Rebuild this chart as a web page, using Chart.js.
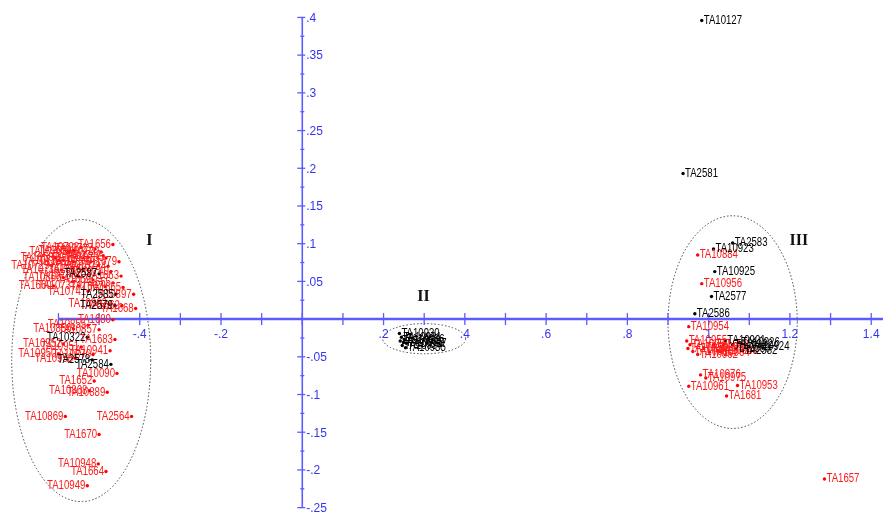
<!DOCTYPE html>
<html>
<head>
<meta charset="utf-8">
<script src="https://cdn.jsdelivr.net/npm/chart.js@4/dist/chart.umd.min.js"></script>
<style>
  html, body { margin: 0; padding: 0; background: #ffffff; }
  #wrap { width: 887px; height: 521px; }
</style>
</head>
<body>
<div id="wrap"><canvas id="c" width="887" height="521"></canvas></div>
<script>
// ---------------- DATA ----------------
const redLabels = ['TA1656','TA10728','TA10720','TA1654','TA10735','TA1679','TA1661','TA10731','TA1666','TA10740',
  'TA10866','TA1659','TA1663','TA10737','TA10897','TA10862','TA1662','TA1668','TA1680','TA10855',
  'TA10857','TA1683','TA10951','TA10941','TA10950','TA10958','TA10090','TA1652','TA10889','TA10868',
  'TA10869','TA2564','TA1670','TA10948','TA1664','TA10949','TA10733','TA1658','TA10729','TA1667',
  'TA10736','TA10739','TA10856','TA10870','TA10952',
  'TA10727','TA10732','TA10734','TA10738','TA1655','TA1660','TA10741','TA1665','TA10742','TA1669',
  'TA10884','TA10956','TA10954','TA10955','TA10957','TA10959','TA10960','TA10962','TA10963','TA10964',
  'TA10965','TA1682','TA10976','TA10975','TA10961','TA10953','TA1681','TA1657'];
const redX = [-0.466,-0.544,-0.495,-0.527,-0.483,-0.451,-0.563,-0.502,-0.539,-0.471,
  -0.588,-0.515,-0.446,-0.551,-0.415,-0.476,-0.444,-0.410,-0.466,-0.527,
  -0.500,-0.461,-0.544,-0.473,-0.600,-0.559,-0.456,-0.512,-0.480,-0.524,
  -0.583,-0.420,-0.500,-0.502,-0.483,-0.529,-0.573,-0.607,-0.617,-0.485,
  -0.593,-0.520,-0.563,-0.515,-0.588,
  -0.510,-0.588,-0.478,-0.551,-0.466,-0.612,-0.527,-0.441,-0.490,-0.563,
  0.973,0.983,0.951,0.946,0.954,0.949,0.961,0.973,0.988,1.002,
  1.022,1.012,0.980,0.993,0.951,1.071,1.044,1.285];
const redY = [0.099,0.095,0.089,0.082,0.081,0.076,0.076,0.071,0.065,0.063,
  0.055,0.052,0.057,0.044,0.033,0.020,0.018,0.014,-0.001,-0.008,
  -0.014,-0.027,-0.037,-0.042,-0.046,-0.052,-0.072,-0.082,-0.097,-0.095,
  -0.129,-0.129,-0.153,-0.192,-0.202,-0.221,0.089,0.081,0.071,0.043,
  0.065,0.076,-0.013,-0.047,-0.033,
  0.093,0.078,0.070,0.057,0.048,0.044,0.037,0.042,0.084,0.091,
  0.085,0.047,-0.010,-0.029,-0.034,-0.039,-0.043,-0.047,-0.038,-0.044,
  -0.042,-0.034,-0.074,-0.078,-0.089,-0.088,-0.102,-0.212];

const blackLabels = ['TA2587','TA2585','TA2579','TA10322','TA2578','TA2584',
  'TA10930','TA10931','TA10932','TA10933','TA10934','TA10935','TA10936','TA10937',
  'TA10127','TA2581','TA2583','TA10923','TA10925','TA2577','TA2586',
  'TA10921','TA10922','TA10926','TA2580','TA2582','TA10924'];
const blackX = [-0.500,-0.459,-0.461,-0.529,-0.517,-0.471,
  0.239,0.244,0.241,0.249,0.246,0.254,0.251,0.256,
  0.983,0.937,1.059,1.012,1.015,1.007,0.966,
  1.041,1.059,1.076,1.066,1.083,1.100];
const blackY = [0.060,0.033,0.018,-0.024,-0.054,-0.060,
  -0.019,-0.024,-0.029,-0.031,-0.035,-0.038,-0.027,-0.032,
  0.396,0.193,0.101,0.093,0.063,0.030,0.007,
  -0.029,-0.034,-0.031,-0.039,-0.042,-0.037];

// axis ticks
const xTickMarks = [-0.6,-0.5,-0.4,-0.3,-0.2,-0.1,0,0.1,0.2,0.3,0.4,0.5,0.6,0.7,0.8,0.9,1.0,1.1,1.2,1.3,1.4];
const xTickValues = [-0.4,-0.2,0.2,0.4,0.6,0.8,1.0,1.2,1.4];
const xTickLabels = ['-.4','-.2','.2','.4','.6','.8','1','1.2','1.4'];
const yTickValues = [0.4,0.35,0.3,0.25,0.2,0.15,0.1,0.05,-0.05,-0.1,-0.15,-0.2,-0.25];
const yTickLabels = ['.4','.35','.3','.25','.2','.15','.1','.05','-.05','-.1','-.15','-.2','-.25'];
const yMinorMarks = [0.375,0.325,0.275,0.225,0.175,0.125,0.075,0.025,-0.025,-0.075,-0.125,-0.175,-0.225];

// group annotations (ellipses) in data units
const groupNames = ['I','II','III'];
const groupCx = [-0.544, 0.300, 1.059];
const groupCy = [-0.055, -0.026, -0.004];
const groupRx = [0.171, 0.102, 0.159];
const groupRy = [0.187, 0.020, 0.141];
const groupLabelX = [-0.376, 0.298, 1.222];
const groupLabelY = [0.104, 0.029, 0.104];

// ---------------- CHART ----------------
const toPts = (xs, ys) => xs.map((x, i) => ({x: x, y: ys[i]}));

const crossAxes = {
  id: 'crossAxes',
  beforeDatasetsDraw(chart) {
    const ctx = chart.ctx;
    const xs = chart.scales.x, ys = chart.scales.y;
    const x0 = xs.getPixelForValue(0), y0 = ys.getPixelForValue(0);
    ctx.save();
    // ellipses
    ctx.strokeStyle = '#444444';
    ctx.lineWidth = 1;
    ctx.setLineDash([1.5, 2]);
    groupNames.forEach((g, i) => {
      const cx = xs.getPixelForValue(groupCx[i]);
      const cy = ys.getPixelForValue(groupCy[i]);
      const rx = Math.abs(xs.getPixelForValue(groupCx[i] + groupRx[i]) - cx);
      const ry = Math.abs(ys.getPixelForValue(groupCy[i] + groupRy[i]) - cy);
      ctx.beginPath();
      ctx.ellipse(cx, cy, rx, ry, 0, 0, Math.PI * 2);
      ctx.stroke();
    });
    ctx.setLineDash([]);
    // x axis
    const axisCol = '#5b5bff';
    ctx.strokeStyle = axisCol;
    ctx.lineWidth = 2.5;
    ctx.beginPath();
    ctx.moveTo(xs.getPixelForValue(-0.6), y0);
    ctx.lineTo(chart.chartArea.right, y0);
    ctx.stroke();
    ctx.lineWidth = 1.3;
    xTickMarks.forEach(v => {
      const px = xs.getPixelForValue(v);
      ctx.beginPath();
      ctx.moveTo(px, y0 - 6);
      ctx.lineTo(px, y0 + 6);
      ctx.stroke();
    });
    // y axis
    ctx.lineWidth = 1.6;
    ctx.beginPath();
    ctx.moveTo(x0, ys.getPixelForValue(0.4));
    ctx.lineTo(x0, ys.getPixelForValue(-0.25));
    ctx.stroke();
    ctx.lineWidth = 1.3;
    yTickValues.forEach(v => {
      const py = ys.getPixelForValue(v);
      ctx.beginPath();
      ctx.moveTo(x0 - 5, py);
      ctx.lineTo(x0 + 3, py);
      ctx.stroke();
    });
    yMinorMarks.forEach(v => {
      const py = ys.getPixelForValue(v);
      ctx.beginPath();
      ctx.moveTo(x0 - 2, py);
      ctx.lineTo(x0 + 2, py);
      ctx.stroke();
    });
    // tick labels
    ctx.fillStyle = '#3535f0';
    ctx.font = '12px "Liberation Sans", Arial, sans-serif';
    ctx.textAlign = 'center';
    ctx.textBaseline = 'middle';
    xTickValues.forEach((v, i) => {
      ctx.fillText(xTickLabels[i], xs.getPixelForValue(v), y0 + 16);
    });
    ctx.textAlign = 'left';
    yTickValues.forEach((v, i) => {
      ctx.fillText(yTickLabels[i], x0 + 4, ys.getPixelForValue(v) + 1);
    });
    // group names
    ctx.fillStyle = '#111111';
    ctx.font = 'bold 16px "Liberation Serif", "Times New Roman", serif';
    ctx.textAlign = 'center';
    groupNames.forEach((g, i) => {
      ctx.fillText(g, xs.getPixelForValue(groupLabelX[i]), ys.getPixelForValue(groupLabelY[i]));
    });
    ctx.restore();
  },
  afterDatasetsDraw(chart) {
    const ctx = chart.ctx;
    ctx.save();
    ctx.font = '12px "Liberation Sans", Arial, sans-serif';
    ctx.textBaseline = 'middle';
    chart.data.datasets.forEach((ds, di) => {
      const meta = chart.getDatasetMeta(di);
      ctx.fillStyle = ds.labelColor;
      meta.data.forEach((el, i) => {
        const lab = ds.pointLabels[i];
        const left = ds.data[i].x < 0;
        ctx.save();
        ctx.translate(left ? el.x - 2 : el.x + 2, el.y);
        ctx.scale(0.8, 1);
        ctx.textAlign = left ? 'right' : 'left';
        ctx.fillText(lab, 0, 0);
        ctx.restore();
      });
    });
    ctx.restore();
  }
};

new Chart(document.getElementById('c'), {
  type: 'scatter',
  data: {
    datasets: [
      { label: 'red', data: toPts(redX, redY), pointLabels: redLabels, labelColor: '#ff1a1a',
        backgroundColor: '#ff0000', borderWidth: 0, pointRadius: 1.7 },
      { label: 'black', data: toPts(blackX, blackY), pointLabels: blackLabels, labelColor: '#000000',
        backgroundColor: '#000000', borderWidth: 0, pointRadius: 1.7 }
    ]
  },
  options: {
    responsive: false,
    animation: false,
    devicePixelRatio: 1,
    layout: { padding: 0 },
    plugins: { legend: { display: false }, tooltip: { enabled: false } },
    scales: {
      x: { type: 'linear', display: false, min: -0.734, max: 1.429 },
      y: { type: 'linear', display: false, min: -0.2624, max: 0.4178 }
    }
  },
  plugins: [crossAxes]
});
</script>
</body>
</html>
